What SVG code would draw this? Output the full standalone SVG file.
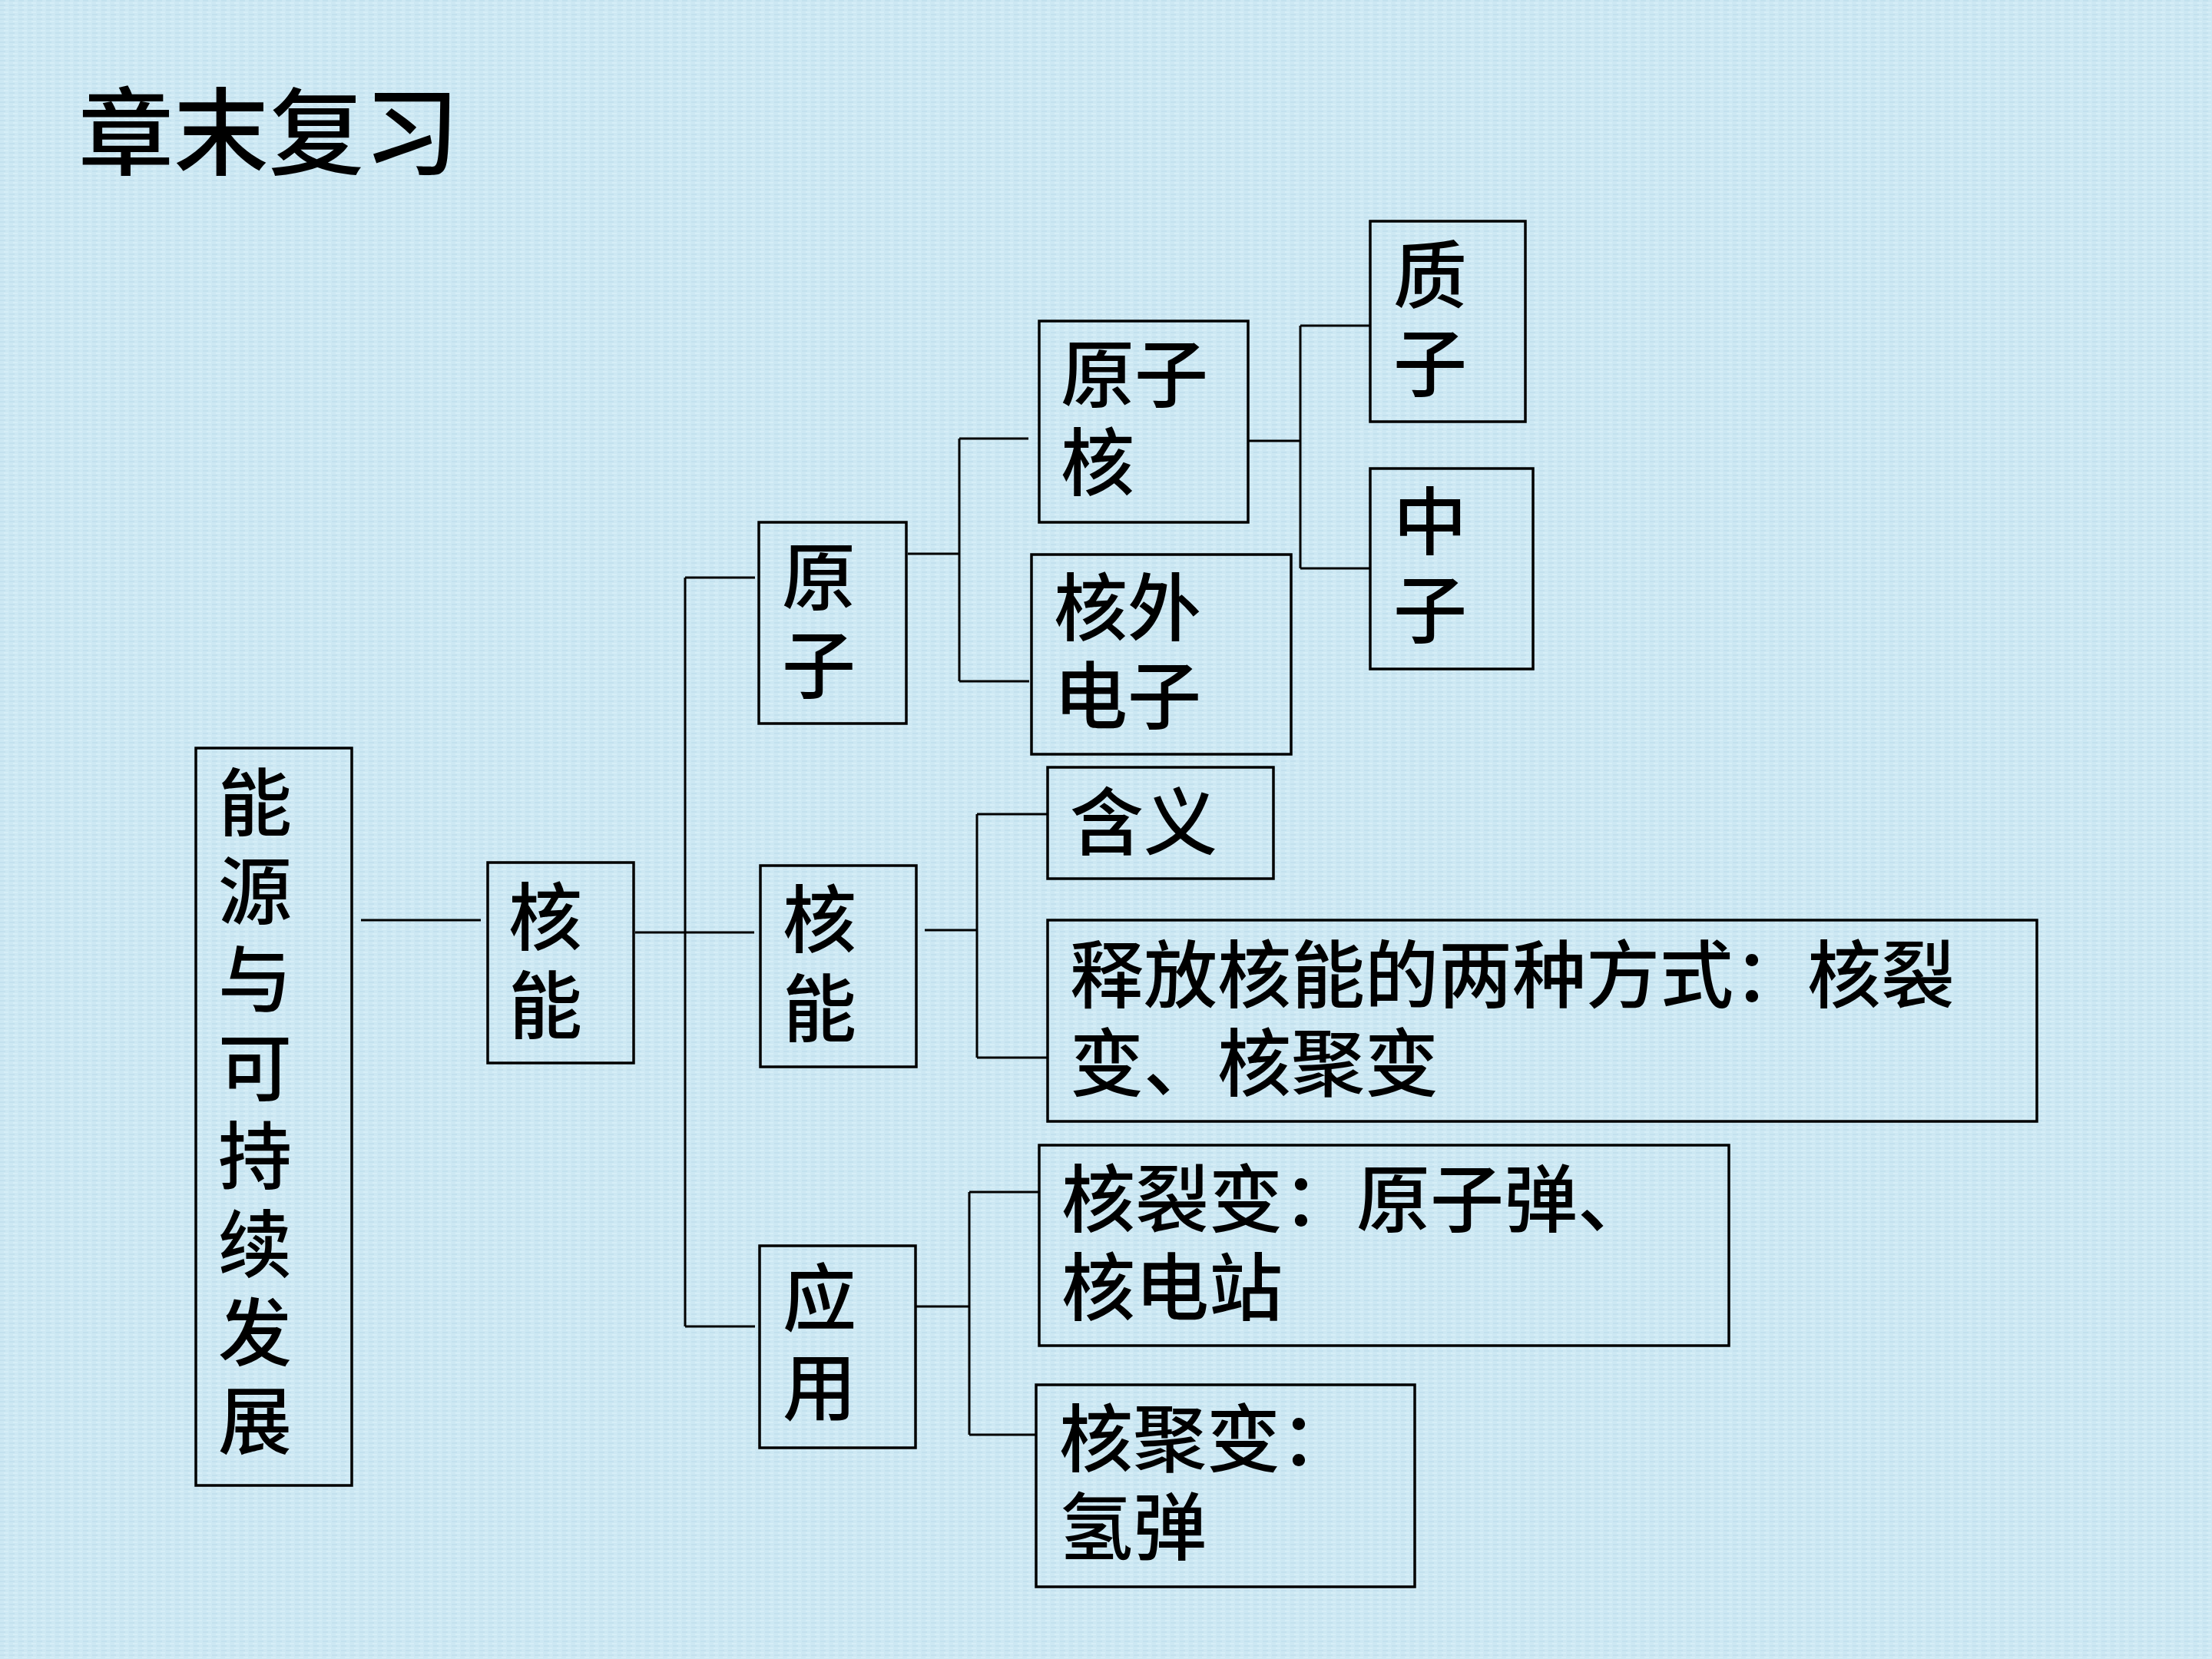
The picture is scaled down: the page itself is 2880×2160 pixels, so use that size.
<svg xmlns="http://www.w3.org/2000/svg" width="2880" height="2160" viewBox="0 0 2880 2160">
<style>
  .box { fill: none; stroke: #000; stroke-width: 3.5; }
  .conn { fill: none; stroke: #000; stroke-width: 3; }
  .t { font-family: "Liberation Sans", "Noto Sans CJK SC", sans-serif; font-size: 96px; font-weight: 500; fill: #000; }
  .title { font-family: "Liberation Sans", "Noto Sans CJK SC", sans-serif; font-size: 124px; font-weight: 500; fill: #000; }
</style>
<defs>
  <pattern id="tex" width="12" height="6" patternUnits="userSpaceOnUse">
    <rect width="12" height="6" fill="#cde8f3"/>
    <rect x="0" y="0" width="7" height="2" fill="#c3e1ee"/>
    <rect x="5" y="3" width="6" height="2" fill="#d6eef7"/>
  </pattern>
</defs>
<rect width="2880" height="2160" fill="url(#tex)"/>

<text class="title" x="102" y="218">章末复习</text>

<g id="connectors">
  <path class="conn" d="M470 1198 H626"/>
  <path class="conn" d="M827 1214 H982"/>
  <path class="conn" d="M892 752 V1727"/>
  <path class="conn" d="M892 752 H983"/>
  <path class="conn" d="M892 1727 H983"/>
  <path class="conn" d="M1182 721 H1249 M1249 571 V887 M1249 571 H1339 M1249 887 H1340"/>
  <path class="conn" d="M1625 574 H1693 M1693 424 V740 M1693 424 H1784 M1693 740 H1784"/>
  <path class="conn" d="M1204 1211 H1272 M1272 1060 V1377 M1272 1060 H1364 M1272 1377 H1364"/>
  <path class="conn" d="M1192 1701 H1262 M1262 1552 V1868 M1262 1552 H1353 M1262 1868 H1349"/>
</g>

<g id="node-main">
  <rect class="box" x="255" y="974" width="203" height="960"/>
  <text class="t"><tspan x="284" y="1080">能</tspan><tspan x="284" y="1195">源</tspan><tspan x="284" y="1310">与</tspan><tspan x="284" y="1425">可</tspan><tspan x="284" y="1540">持</tspan><tspan x="284" y="1655">续</tspan><tspan x="284" y="1770">发</tspan><tspan x="284" y="1885">展</tspan></text>
</g>

<g id="node-heneng1">
  <rect class="box" x="635" y="1123" width="190" height="261"/>
  <text class="t"><tspan x="662" y="1229">核</tspan><tspan x="662" y="1344">能</tspan></text>
</g>

<g id="node-yuanzi">
  <rect class="box" x="988" y="680" width="192" height="262"/>
  <text class="t"><tspan x="1018" y="786">原</tspan><tspan x="1018" y="901">子</tspan></text>
</g>

<g id="node-heneng2">
  <rect class="box" x="990" y="1127" width="203" height="262"/>
  <text class="t"><tspan x="1019" y="1232">核</tspan><tspan x="1019" y="1348">能</tspan></text>
</g>

<g id="node-yingyong">
  <rect class="box" x="989" y="1622" width="203" height="263"/>
  <text class="t"><tspan x="1019" y="1725">应</tspan><tspan x="1019" y="1841">用</tspan></text>
</g>

<g id="node-yuanzihe">
  <rect class="box" x="1353" y="418" width="272" height="262"/>
  <text class="t"><tspan x="1381" y="522">原子</tspan><tspan x="1381" y="637">核</tspan></text>
</g>

<g id="node-hewaidianzi">
  <rect class="box" x="1343" y="722" width="338" height="260"/>
  <text class="t"><tspan x="1372" y="826">核外</tspan><tspan x="1372" y="941">电子</tspan></text>
</g>

<g id="node-zhizi">
  <rect class="box" x="1784" y="288" width="202" height="261"/>
  <text class="t"><tspan x="1814" y="393">质</tspan><tspan x="1814" y="508">子</tspan></text>
</g>

<g id="node-zhongzi">
  <rect class="box" x="1784" y="610" width="212" height="261"/>
  <text class="t"><tspan x="1814" y="714">中</tspan><tspan x="1814" y="829">子</tspan></text>
</g>

<g id="node-hanyi">
  <rect class="box" x="1364" y="999" width="294" height="145"/>
  <text class="t" x="1393" y="1105">含义</text>
</g>

<g id="node-shifang">
  <rect class="box" x="1364" y="1198" width="1288" height="262"/>
  <text class="t"><tspan x="1393" y="1304">释放核能的两种方式：核裂</tspan><tspan x="1393" y="1419">变、核聚变</tspan></text>
</g>

<g id="node-heliebian">
  <rect class="box" x="1353" y="1491" width="898" height="261"/>
  <text class="t"><tspan x="1382" y="1596">核裂变：原子弹、</tspan><tspan x="1382" y="1711">核电站</tspan></text>
</g>

<g id="node-hejubian">
  <rect class="box" x="1349" y="1803" width="493" height="263"/>
  <text class="t"><tspan x="1379" y="1908">核聚变：</tspan><tspan x="1379" y="2023">氢弹</tspan></text>
</g>
</svg>
